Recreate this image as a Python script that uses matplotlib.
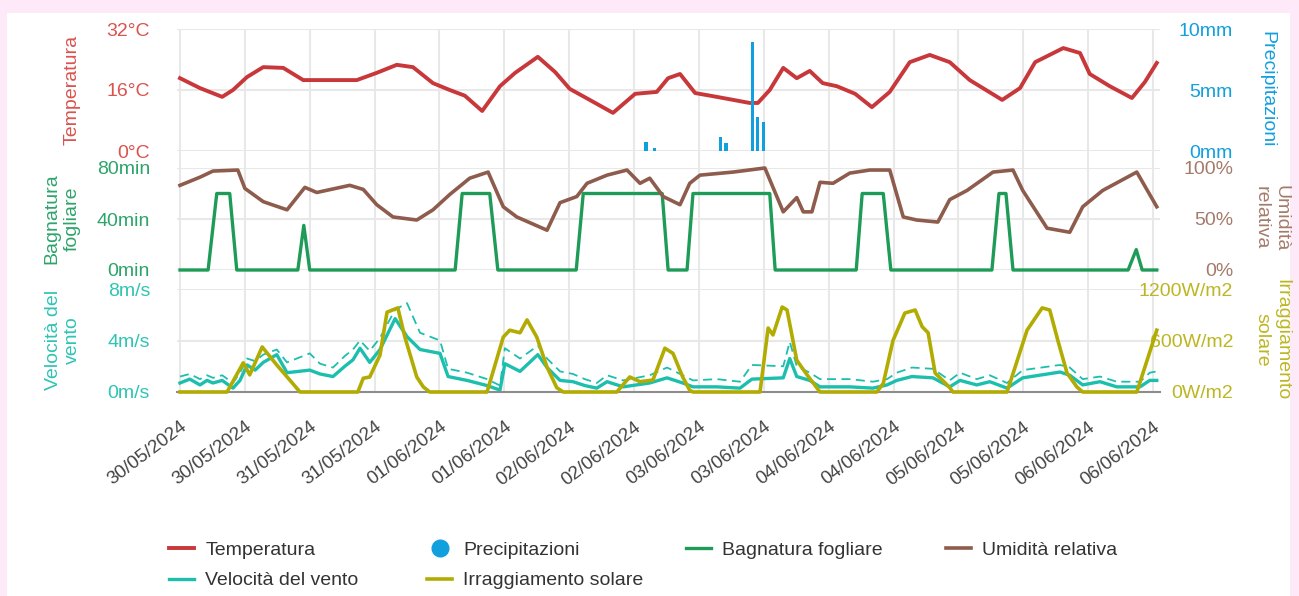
import matplotlib
matplotlib.use('Agg')
import matplotlib.pyplot as plt
from matplotlib.lines import Line2D
from matplotlib.patches import Rectangle

# x values are hours from 30/05/2024 00:00, one tick every 12 hours
tick_hours = list(range(0, 181, 12))
date_labels = ['30/05/2024', '30/05/2024', '31/05/2024', '31/05/2024',
               '01/06/2024', '01/06/2024', '02/06/2024', '02/06/2024',
               '03/06/2024', '03/06/2024', '04/06/2024', '04/06/2024',
               '05/06/2024', '05/06/2024', '06/06/2024', '06/06/2024']

# temperature (deg C)
temp_h = [0.0, 3.7, 7.8, 9.8, 12.4, 15.4, 19.1, 22.8, 28.3, 32.7, 36.4, 40.1,
          43.1, 46.8, 49.9, 52.7, 55.9, 59.2, 62.0, 66.2, 69.4, 72.1, 75.8,
          80.1, 84.2, 88.2, 90.3, 92.5, 95.3, 99.3, 105.4, 106.9, 109.1,
          111.6, 114.1, 116.5, 118.9, 121.5, 124.9, 128.0, 131.3, 135.0,
          138.7, 142.4, 146.1, 152.1, 155.4, 158.2, 163.4, 166.5, 168.3,
          172.0, 176.1, 178.5, 180.7]
temp_c = [19.1, 16.5, 14.2, 16.0, 19.4, 22.0, 21.8, 18.6, 18.6, 18.6, 20.5,
          22.6, 22.0, 17.8, 16.0, 14.5, 10.5, 17.0, 20.5, 24.7, 20.7, 16.3,
          13.4, 10.0, 15.0, 15.5, 19.1, 20.2, 15.2, 14.2, 12.6, 12.6, 16.0,
          21.8, 19.1, 21.0, 17.8, 17.0, 15.0, 11.5, 15.5, 23.3, 25.2, 23.3,
          18.6, 13.4, 16.5, 23.3, 27.0, 25.7, 20.2, 17.0, 13.9, 18.1, 23.1]

# rain (mm)
rain_h = [86.2, 87.8, 100.0, 101.0, 105.9, 106.9, 108.0]
rain_mm = [0.75, 0.25, 1.15, 0.65, 8.9, 2.8, 2.4]

# relative humidity (%)
hum_h = [0.0, 3.7, 6.1, 10.7, 12.0, 15.4, 19.8, 23.1, 25.3, 31.4, 33.9, 36.4,
         39.4, 43.8, 46.8, 49.9, 53.6, 57.0, 59.8, 62.3, 67.9, 70.3, 73.4,
         75.3, 79.0, 82.7, 85.1, 86.9, 89.4, 92.5, 94.3, 96.2, 102.3, 108.2,
         111.6, 114.1, 115.3, 116.9, 118.4, 120.8, 123.9, 127.6, 131.3,
         133.8, 136.3, 140.2, 142.4, 145.6, 150.4, 154.1, 155.9, 160.4,
         164.6, 167.0, 170.7, 177.0, 180.7]
hum_pct = [83, 91, 97, 98, 80, 67, 59, 81, 76, 83, 79, 64, 52, 49, 59, 74, 90,
           96, 62, 52, 39, 66, 72, 85, 93, 98, 85, 90, 72, 64, 85, 93, 96, 100,
           57, 71, 57, 57, 86, 85, 95, 98, 98, 52, 49, 47, 69, 78, 96, 98, 78,
           41, 37, 62, 78, 96, 62]

# leaf wetness (min)
leaf_h = [0, 5.2, 6.8, 9.2, 10.5, 21.8, 22.9, 24.0, 50.9, 52.2, 57.3, 58.8,
          73.3, 74.6, 89.2, 90.3, 93.8, 94.9, 109.1, 110.1, 125.1, 126.2,
          130.1, 131.5, 150.2, 151.5, 152.8, 154.1, 175.4, 176.9, 178.0, 180.7]
leaf_min = [0, 0, 60, 60, 0, 0, 35, 0, 0, 60, 60, 0,
            0, 60, 60, 0, 0, 60, 60, 0, 0, 60,
            60, 0, 0, 60, 60, 0, 0, 16, 0, 0]

# wind speed and gusts (m/s)
wind_h = [0.0, 1.8, 3.7, 5.0, 6.1, 7.8, 9.8, 11.1, 12.4, 13.9, 15.4, 17.9,
          19.8, 24.0, 25.9, 28.3, 30.5, 32.0, 33.3, 35.1, 37.0, 39.8, 42.0,
          44.4, 48.1, 49.6, 53.1, 56.8, 59.2, 60.1, 62.9, 66.2, 67.9, 70.3,
          72.7, 74.9, 77.1, 79.0, 82.0, 86.9, 90.1, 93.0, 94.9, 99.3, 103.6,
          105.8, 111.6, 112.8, 114.1, 116.5, 118.4, 123.9, 128.2, 130.8,
          132.6, 135.4, 139.3, 142.4, 144.3, 147.4, 149.8, 153.0, 155.9,
          162.8, 164.6, 167.0, 170.2, 173.3, 177.6, 179.4, 180.7]
wind_ms = [0.7, 1.0, 0.55, 0.9, 0.7, 0.9, 0.3, 0.9, 2.1, 1.7, 2.3, 2.9,
           1.5, 1.7, 1.4, 1.2, 2.0, 2.5, 3.4, 2.3, 3.3, 5.7, 4.3,
           3.3, 3.0, 1.2, 0.9, 0.5, 0.15, 2.2, 1.6, 2.9, 1.9, 0.9,
           0.8, 0.5, 0.3, 0.8, 0.4, 0.7, 1.1, 0.7, 0.4, 0.4, 0.3,
           1.0, 1.1, 2.6, 1.2, 0.9, 0.4, 0.4, 0.3, 0.55,
           0.9, 1.2, 1.1, 0.4, 0.9, 0.55, 0.8, 0.3, 1.1,
           1.55, 1.3, 0.55, 0.8, 0.4, 0.4, 0.9, 0.9]
gust_ms = [1.2, 1.4, 1.0, 1.3, 1.1, 1.3, 0.7, 1.5, 2.6, 2.4, 2.9, 3.3,
           2.3, 3.0, 2.2, 1.9, 2.8, 3.3, 4.0, 3.2, 4.2, 6.4, 6.9,
           4.6, 4.0, 1.8, 1.5, 1.0, 0.5, 3.4, 2.6, 3.6, 2.6, 1.6,
           1.4, 1.0, 0.7, 1.3, 0.9, 1.3, 1.9, 1.3, 0.9, 1.0, 0.8,
           2.1, 2.0, 3.9, 2.0, 1.5, 1.0, 1.0, 0.8, 1.0,
           1.5, 1.9, 1.8, 0.9, 1.5, 1.0, 1.3, 0.7, 1.7,
           2.1, 1.9, 1.0, 1.2, 0.8, 0.8, 1.5, 1.6]

# solar radiation (W/m2)
rad_h = [0, 8.7, 11.7, 12.9, 15.2, 17.9, 20.3, 22.2, 32.9, 33.9, 35.1, 37.0,
         38.3, 40.3, 41.6, 43.8, 45.0, 46.2, 56.8, 59.8, 61.0, 62.9, 64.2,
         66.0, 67.9, 69.7, 70.9, 80.8, 83.2, 85.1, 87.5, 89.7, 91.2, 93.0,
         94.3, 94.9, 107.3, 108.8, 109.7, 111.4, 112.3, 114.1, 116.0, 117.8,
         118.4, 128.9, 130.1, 131.9, 134.1, 136.0, 137.3, 138.4, 139.7,
         141.0, 142.4, 143.0, 153.0, 156.7, 159.5, 160.9, 162.4, 164.1,
         165.9, 167.0, 177.0, 178.5, 180.7]
rad_w = [0, 0, 340, 200, 525, 315, 140, 0, 0, 160, 175, 430,
         930, 980, 640, 175, 60, 0, 0, 640, 720, 690, 840,
         640, 290, 50, 0, 0, 175, 120, 140, 510, 450, 175,
         20, 0, 0, 745, 665, 990, 955, 370, 200, 50,
         0, 0, 100, 600, 920, 955, 760, 690, 220,
         140, 50, 0, 0, 720, 980, 955, 600, 220,
         60, 0, 0, 290, 720]

# colours
C_TEMP, C_TEMP_T = '#c8383b', '#d9544f'
C_RAIN = '#129fdd'
C_LEAF, C_LEAF_T = '#1e9c57', '#2ea46a'
C_HUM, C_HUM_T = '#8e5c4c', '#a47b6b'
C_WIND, C_WIND_T = '#1cbfae', '#2fc4b4'
C_RAD, C_RAD_T = '#b2ac02', '#bdb623'
GRID = '#e8e8e8'

W, H = 1299, 596
X0, X1 = 177, 1160
XLIM = (-3 / 5.4056, 180 + 7 / 5.4056)
FS = 14
LPAD = 19.4
RPAD = 52.6


def panel(fig, top, bottom):
    ax = fig.add_axes([X0 / W, 1 - bottom / H, (X1 - X0) / W, (bottom - top) / H])
    ax.patch.set_alpha(0)
    ax.set_xlim(XLIM)
    ax.set_xticks([])
    for s in ax.spines.values():
        s.set_visible(False)
    ax.tick_params(axis='y', length=0, labelsize=FS, pad=LPAD)
    ax.yaxis.grid(True, color=GRID, lw=1.5)
    ax.set_axisbelow(True)
    return ax


def side(ax, ticks, labels, color, right=False):
    ax.set_ylim(ticks[0], ticks[-1])
    ax.set_yticks(ticks)
    if right:
        ax.set_yticklabels(labels, color=color, ha='right')
        ax.tick_params(axis='y', length=0, labelsize=FS, pad=RPAD)
    else:
        ax.set_yticklabels(labels, color=color)


def twin(ax):
    t = ax.twinx()
    t.set_xlim(XLIM)
    for s in t.spines.values():
        s.set_visible(False)
    return t


def main():
    plt.rcParams['font.family'] = ['Liberation Sans', 'DejaVu Sans']
    fig = plt.figure(figsize=(W / 100, H / 100), dpi=100, facecolor='#fde9f7')
    fig.patches.append(Rectangle((7 / W, 0), (1290 - 7) / W, 1 - 13 / H,
                                 transform=fig.transFigure, facecolor='white',
                                 edgecolor='none', zorder=-1))

    # background axes: vertical grid + date labels
    bg = fig.add_axes([X0 / W, 1 - 392 / H, (X1 - X0) / W, (392 - 29) / H])
    bg.patch.set_alpha(0)
    bg.set_xlim(XLIM)
    bg.set_ylim(0, 1)
    bg.set_yticks([])
    for s in bg.spines.values():
        s.set_visible(False)
    bg.set_xticks(tick_hours)
    bg.set_xticklabels(date_labels, rotation=37, ha='right', va='top',
                       rotation_mode='anchor', color='#444444', fontsize=13.5)
    bg.tick_params(axis='x', length=0, pad=19)
    bg.xaxis.grid(True, color=GRID, lw=1.5)

    # temperature / rain
    ax_t = panel(fig, 29, 151)
    side(ax_t, [0, 16, 32], ['0°C', '16°C', '32°C'], C_TEMP_T)
    h_temp, = ax_t.plot(temp_h, temp_c, color=C_TEMP, lw=2.8, clip_on=False,
                        solid_joinstyle='round')
    ax_r = twin(ax_t)
    side(ax_r, [0, 5, 10], ['0mm', '5mm', '10mm'], C_RAIN, right=True)
    ax_r.bar(rain_h, rain_mm, width=0.6, color=C_RAIN)
    h_rain = Line2D([], [], marker='o', ls='none', markersize=12, color=C_RAIN)

    # leaf wetness / humidity
    ax_l = panel(fig, 168, 270)
    side(ax_l, [0, 40, 80], ['0min', '40min', '80min'], C_LEAF_T)
    h_leaf, = ax_l.plot(leaf_h, leaf_min, color=C_LEAF, lw=2.4, clip_on=False,
                        solid_joinstyle='round')
    ax_h = twin(ax_l)
    side(ax_h, [0, 50, 100], ['0%', '50%', '100%'], C_HUM_T, right=True)
    h_hum, = ax_h.plot(hum_h, hum_pct, color=C_HUM, lw=2.6, clip_on=False,
                       solid_joinstyle='round')

    # wind / radiation
    ax_w = panel(fig, 289, 392)
    side(ax_w, [0, 4, 8], ['0m/s', '4m/s', '8m/s'], C_WIND_T)
    ax_w.spines['bottom'].set_visible(True)
    ax_w.spines['bottom'].set_color('#8c8c8c')
    ax_w.spines['bottom'].set_linewidth(1.5)
    ax_w.plot(wind_h, gust_ms, color=C_WIND, lw=1.3, dashes=(5, 3), clip_on=False)
    h_wind, = ax_w.plot(wind_h, wind_ms, color=C_WIND, lw=2.4, clip_on=False,
                        solid_joinstyle='round')
    ax_s = twin(ax_w)
    side(ax_s, [0, 600, 1200], ['0W/m2', '600W/m2', '1200W/m2'], C_RAD_T, right=True)
    h_rad, = ax_s.plot(rad_h, rad_w, color=C_RAD, lw=2.6, clip_on=False,
                       solid_joinstyle='round')

    # axis titles
    fig.text(72 / W, 1 - 90 / H, 'Temperatura', rotation=90, ha='center',
             va='center', color=C_TEMP_T, fontsize=FS)
    fig.text(62 / W, 1 - 219 / H, 'Bagnatura\nfogliare', rotation=90, ha='center',
             va='center', color=C_LEAF_T, fontsize=FS)
    fig.text(63 / W, 1 - 340 / H, 'Velocità del\nvento', rotation=90, ha='center',
             va='center', color=C_WIND_T, fontsize=FS)
    fig.text(1267 / W, 1 - 89 / H, 'Precipitazioni', rotation=270, ha='center',
             va='center', color=C_RAIN, fontsize=FS)
    fig.text(1271 / W, 1 - 218 / H, 'Umidità\nrelativa', rotation=270, ha='center',
             va='center', color=C_HUM_T, fontsize=FS)
    fig.text(1272 / W, 1 - 340 / H, 'Irraggiamento\nsolare', rotation=270,
             ha='center', va='center', color=C_RAD_T, fontsize=FS)

    # legend, one block per column
    columns = [([h_temp, h_wind], ['Temperatura', 'Velocità del vento'], 169),
               ([h_rain, h_rad], ['Precipitazioni', 'Irraggiamento solare'], 427),
               ([h_leaf], ['Bagnatura fogliare'], 686),
               ([h_hum], ['Umidità relativa'], 946)]
    for handles, labels, x in columns:
        fig.legend(handles, labels, loc='upper left',
                   bbox_to_anchor=(x / W, 1 - 541 / H), frameon=False,
                   fontsize=FS, labelcolor='#333333', borderpad=0,
                   borderaxespad=0, handlelength=1.29, handletextpad=0.57,
                   labelspacing=0.68)

    fig.savefig('out.png', dpi=100, facecolor=fig.get_facecolor())


if __name__ == "__main__":
    main()
